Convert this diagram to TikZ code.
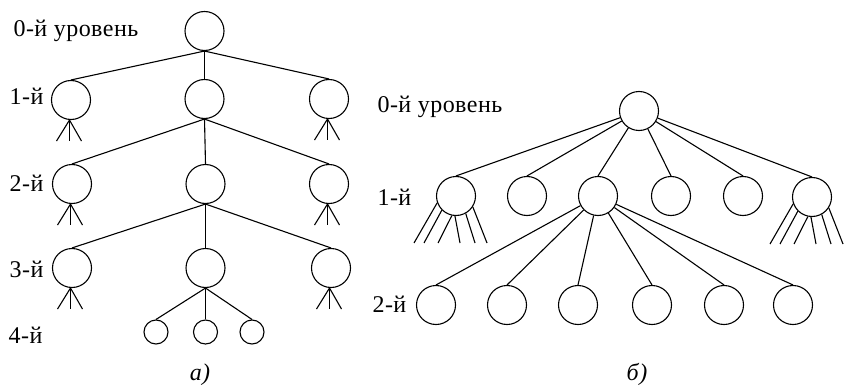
\documentclass[tikz,border=0pt]{standalone}
\usepackage{fontspec}
\setmainfont{Liberation Serif}[LetterSpace=2]
\usetikzlibrary{calc}
\begin{document}
\begin{tikzpicture}[x=1pt,y=-1pt,line width=1.1pt,
  vert/.style={circle,draw,inner sep=0pt,minimum size=39pt},
  small/.style={circle,draw,inner sep=0pt,minimum size=24pt},
  lbl/.style={anchor=base west,inner sep=0pt,font=\fontsize{24}{28}\selectfont},
  captext/.style={inner sep=0pt,font=\fontsize{24}{28}\selectfont\itshape}]
\useasboundingbox (0,0) rectangle (850,385);
% ---------- a) ----------
\node[vert] (r) at (204.5,31) {};
\node[vert] (a1) at (71,100) {};
\node[vert] (a2) at (204.5,99) {};
\node[vert] (a3) at (329,99) {};
\node[vert] (b1) at (72,184) {};
\node[vert] (b2) at (205.5,184) {};
\node[vert] (b3) at (329,184) {};
\node[vert] (e1) at (72,268) {};
\node[vert] (e2) at (205.5,268) {};
\node[vert] (e3) at (331,268) {};
\node[small] (f1) at (156,332) {};
\node[small] (f2) at (205.5,332) {};
\node[small] (f3) at (252,332) {};
\foreach \c in {a1,a2,a3} \draw (r.south) -- (\c.north);
\foreach \c in {b1,b2,b3} \draw (a2.south) -- (\c.north);
\foreach \c in {e1,e2,e3} \draw (b2.south) -- (\c.north);
\foreach \c in {f1,f2,f3} \draw (e2.south) -- (\c.north);
\foreach \n in {a1,a3,b1,b3,e1,e3} {
  \coordinate (\n-ap) at ($(\n.south)+(-1.5,0)$);
  \foreach \dx in {-13,0,12} \draw (\n-ap) -- ++(\dx,21);
}
\node[lbl] (la0) at (13,37) {0-й уровень};
\node[lbl,anchor=base east] (la1) at (44,104) {1-й};
\node[lbl,anchor=base east] (la2) at (44,191) {2-й};
\node[lbl,anchor=base east] (la3) at (44,277) {3-й};
\node[lbl,anchor=base east] (la4) at (43,343) {4-й};
\node[captext] (capa) at (200,375) {а)};
% ---------- b) ----------
\node[vert] (R) at (639,111) {};
\node[vert] (c1) at (456,196) {};
\node[vert] (c2) at (527,196) {};
\node[vert] (c3) at (598,196) {};
\node[vert] (c4) at (671,196) {};
\node[vert] (c5) at (743,196) {};
\node[vert] (c6) at (812,197) {};
\node[vert] (d1) at (436,305) {};
\node[vert] (d2) at (507,305) {};
\node[vert] (d3) at (578,305) {};
\node[vert] (d4) at (652,305) {};
\node[vert] (d5) at (724,305) {};
\node[vert] (d6) at (793,305) {};
\foreach \c in {c1,c2,c3,c4,c5,c6} \draw (R) -- (\c.north);
\foreach \d in {d1,d2,d3,d4,d5,d6} \draw (c3) -- (\d.north);
\foreach \n in {c1,c6} {
  \foreach \a/\dx in {200/-42,225/-32,258/-18,267/4,299/19,327/31}
    \draw (\n.\a) -- ($(\n)+(\dx,47)$);
}
\node[lbl] (lb0) at (377,112) {0-й уровень};
\node[lbl] (lb1) at (377,205) {1-й};
\node[lbl] (lb2) at (372,312) {2-й};
\node[captext] (capb) at (637,374) {б)};
\end{tikzpicture}
\end{document}
